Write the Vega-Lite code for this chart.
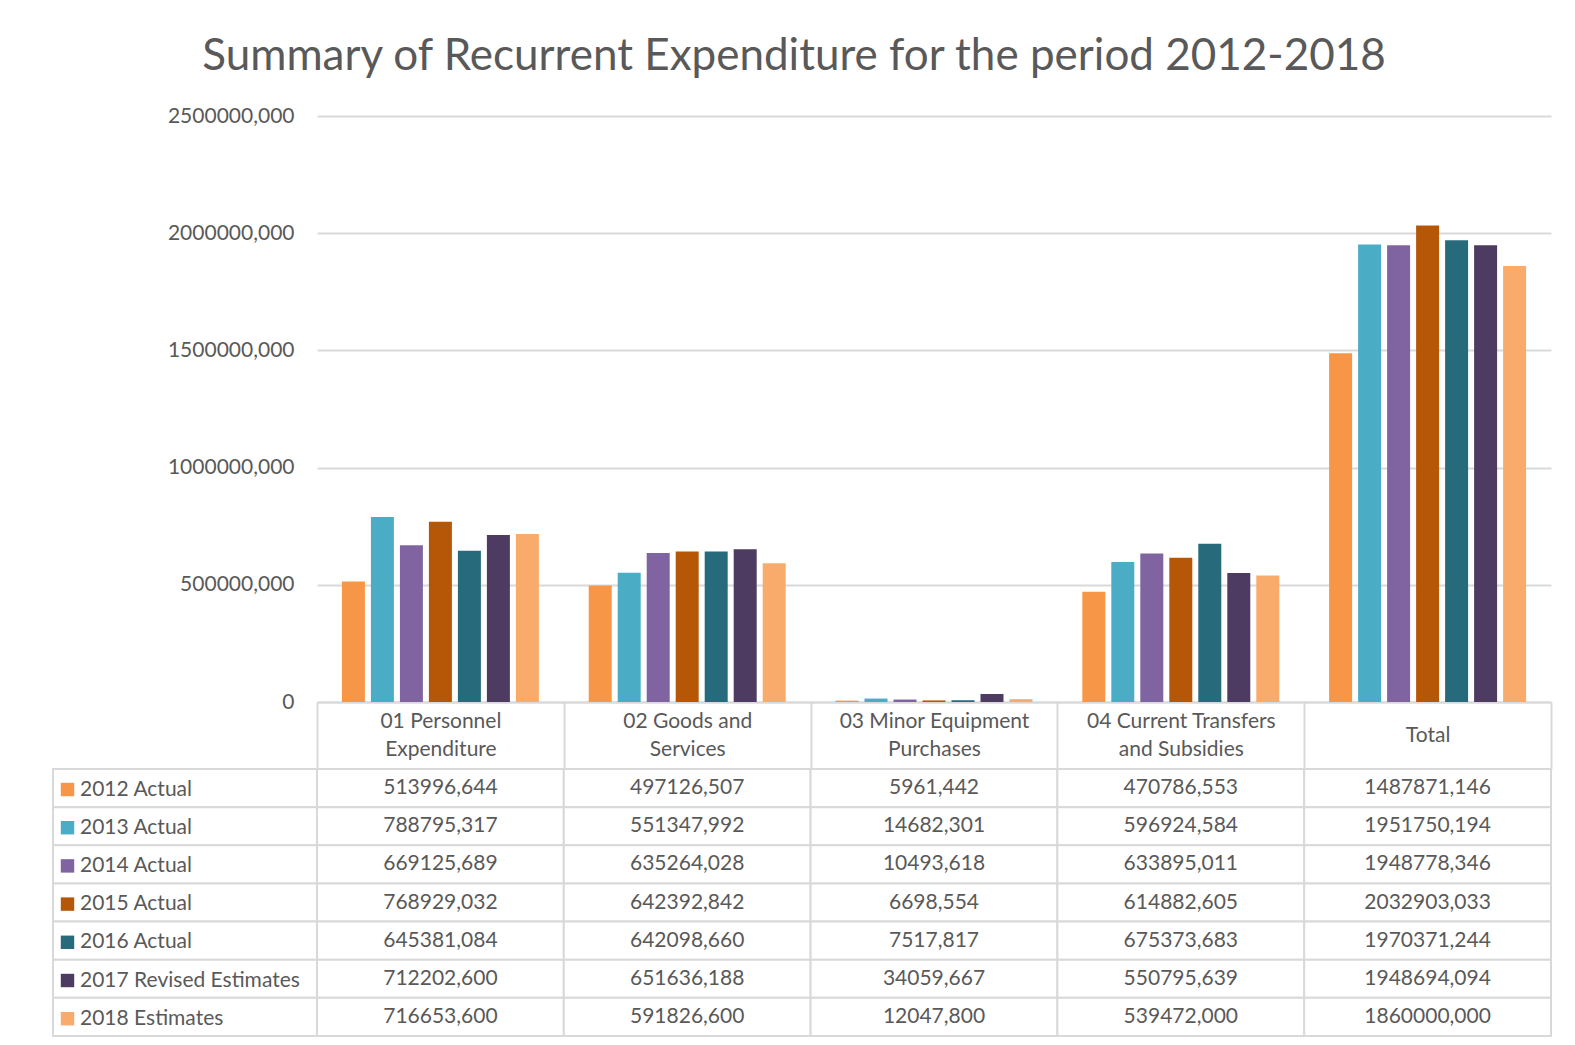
{
  "$schema": "https://vega.github.io/schema/vega-lite/v6.json",
  "padding": {"left": 52, "top": 34, "right": 20, "bottom": 5},
  "background": "white",
  "config": {
    "locale": {"number": {"decimal": ",", "thousands": "", "grouping": [3], "currency": ["", ""]}},
    "view": {"stroke": null},
    "font": "Lato",
    "legend": {"labelFont": "Lato"}
  },
  "title": {"text": "Summary of Recurrent Expenditure for the period 2012-2018", "fontSize": 44, "font": "Lato", "fontWeight": "normal", "color": "#595959", "anchor": "middle", "dx": -8, "offset": 26.5},
  "datasets": {
    "main": [
      {"category": "01 Personnel Expenditure", "series": "2012 Actual", "value": 513996.644},
      {"category": "01 Personnel Expenditure", "series": "2013 Actual", "value": 788795.317},
      {"category": "01 Personnel Expenditure", "series": "2014 Actual", "value": 669125.689},
      {"category": "01 Personnel Expenditure", "series": "2015 Actual", "value": 768929.032},
      {"category": "01 Personnel Expenditure", "series": "2016 Actual", "value": 645381.084},
      {"category": "01 Personnel Expenditure", "series": "2017 Revised Estimates", "value": 712202.6},
      {"category": "01 Personnel Expenditure", "series": "2018 Estimates", "value": 716653.6},
      {"category": "02 Goods and Services", "series": "2012 Actual", "value": 497126.507},
      {"category": "02 Goods and Services", "series": "2013 Actual", "value": 551347.992},
      {"category": "02 Goods and Services", "series": "2014 Actual", "value": 635264.028},
      {"category": "02 Goods and Services", "series": "2015 Actual", "value": 642392.842},
      {"category": "02 Goods and Services", "series": "2016 Actual", "value": 642098.66},
      {"category": "02 Goods and Services", "series": "2017 Revised Estimates", "value": 651636.188},
      {"category": "02 Goods and Services", "series": "2018 Estimates", "value": 591826.6},
      {"category": "03 Minor Equipment Purchases", "series": "2012 Actual", "value": 5961.442},
      {"category": "03 Minor Equipment Purchases", "series": "2013 Actual", "value": 14682.301},
      {"category": "03 Minor Equipment Purchases", "series": "2014 Actual", "value": 10493.618},
      {"category": "03 Minor Equipment Purchases", "series": "2015 Actual", "value": 6698.554},
      {"category": "03 Minor Equipment Purchases", "series": "2016 Actual", "value": 7517.817},
      {"category": "03 Minor Equipment Purchases", "series": "2017 Revised Estimates", "value": 34059.667},
      {"category": "03 Minor Equipment Purchases", "series": "2018 Estimates", "value": 12047.8},
      {"category": "04 Current Transfers and Subsidies", "series": "2012 Actual", "value": 470786.553},
      {"category": "04 Current Transfers and Subsidies", "series": "2013 Actual", "value": 596924.584},
      {"category": "04 Current Transfers and Subsidies", "series": "2014 Actual", "value": 633895.011},
      {"category": "04 Current Transfers and Subsidies", "series": "2015 Actual", "value": 614882.605},
      {"category": "04 Current Transfers and Subsidies", "series": "2016 Actual", "value": 675373.683},
      {"category": "04 Current Transfers and Subsidies", "series": "2017 Revised Estimates", "value": 550795.639},
      {"category": "04 Current Transfers and Subsidies", "series": "2018 Estimates", "value": 539472.0},
      {"category": "Total", "series": "2012 Actual", "value": 1487871.146},
      {"category": "Total", "series": "2013 Actual", "value": 1951750.194},
      {"category": "Total", "series": "2014 Actual", "value": 1948778.346},
      {"category": "Total", "series": "2015 Actual", "value": 2032903.033},
      {"category": "Total", "series": "2016 Actual", "value": 1970371.244},
      {"category": "Total", "series": "2017 Revised Estimates", "value": 1948694.094},
      {"category": "Total", "series": "2018 Estimates", "value": 1860000.0}
    ]
  },
  "columns": 2,
  "bounds": "flush",
  "spacing": {"row": 67, "column": 0},
  "concat": [
    {
      "width": 264,
      "height": 586,
      "data": {"values": [{"t": ""}]},
      "mark": {"type": "text"},
      "encoding": {"text": {"field": "t"}}
    },
    {
      "width": 1234,
      "height": 586,
      "data": {"name": "main"},
      "mark": {"type": "bar"},
      "encoding": {
        "x": {
          "field": "category", "type": "nominal", "sort": null,
          "scale": {"paddingInner": 0, "paddingOuter": 0},
          "axis": {
            "title": null, "labelAngle": 0, "domainColor": "#D9D9D9", "domainWidth": 2,
            "tickColor": "#D9D9D9", "tickWidth": 2, "tickSize": 67, "tickBand": "extent",
            "labelColor": "#595959", "labelFontSize": 21, "labelFont": "Lato",
            "labelBaseline": "middle", "labelLineHeight": 28, "labelLimit": 0,
            "labelPadding": {"condition": {"test": "datum.value == 'Total'", "value": -34}, "value": -48},
            "labelExpr": "datum.label == '01 Personnel Expenditure' ? ['01 Personnel', 'Expenditure'] : datum.label == '02 Goods and Services' ? ['02 Goods and', 'Services'] : datum.label == '03 Minor Equipment Purchases' ? ['03 Minor Equipment', 'Purchases'] : datum.label == '04 Current Transfers and Subsidies' ? ['04 Current Transfers', 'and Subsidies'] : datum.label"
          }
        },
        "xOffset": {"field": "series", "type": "nominal", "sort": null, "scale": {"paddingInner": 0.207, "paddingOuter": 0.859}},
        "y": {
          "field": "value", "type": "quantitative",
          "scale": {"domain": [0, 2500000]},
          "axis": {
            "title": null, "values": [0, 500000, 1000000, 1500000, 2000000, 2500000],
            "format": ".3f", "labelExpr": "datum.value == 0 ? '0' : datum.label",
            "domain": false, "ticks": false, "labelPadding": 23,
            "labelColor": "#595959", "labelFontSize": 21, "labelFont": "Lato",
            "gridColor": "#D9D9D9", "gridWidth": 2
          }
        },
        "color": {
          "field": "series", "type": "nominal", "sort": null,
          "scale": {
            "domain": ["2012 Actual", "2013 Actual", "2014 Actual", "2015 Actual", "2016 Actual", "2017 Revised Estimates", "2018 Estimates"],
            "range": ["#F79646", "#4BACC6", "#8064A2", "#B65708", "#276A7C", "#4E3B62", "#F9AB6B"]
          },
          "legend": {
            "orient": "none", "legendX": 4, "legendY": 663, "title": null,
            "symbolType": "square", "symbolSize": 180, "symbolStrokeWidth": 0,
            "labelFontSize": 21, "labelColor": "#595959", "labelOffset": 2,
            "rowPadding": 16.2, "padding": 0, "labelLimit": 0
          }
        }
      }
    },
    {
      "width": 264,
      "height": 267,
      "data": {"name": "main"},
      "transform": [{"filter": "datum.category == 'Total'"}],
      "mark": {"type": "rect", "fill": "white", "stroke": "#D9D9D9", "strokeWidth": 2},
      "encoding": {
        "y": {"field": "series", "type": "nominal", "sort": null, "scale": {"paddingInner": 0, "paddingOuter": 0}, "axis": null},
        "x": {"value": 0},
        "x2": {"value": "width"}
      }
    },
    {
      "width": 1234,
      "height": 267,
      "data": {"name": "main"},
      "encoding": {
        "x": {"field": "category", "type": "nominal", "sort": null, "scale": {"paddingInner": 0, "paddingOuter": 0}, "axis": null},
        "y": {"field": "series", "type": "nominal", "sort": null, "scale": {"paddingInner": 0, "paddingOuter": 0}, "axis": null}
      },
      "layer": [
        {"mark": {"type": "rect", "fill": "white", "stroke": "#D9D9D9", "strokeWidth": 2}},
        {
          "mark": {"type": "text", "fontSize": 21, "font": "Lato", "color": "#595959", "align": "center", "baseline": "middle"},
          "encoding": {"text": {"field": "value", "type": "quantitative", "format": ".3f"}}
        }
      ]
    }
  ]
}
